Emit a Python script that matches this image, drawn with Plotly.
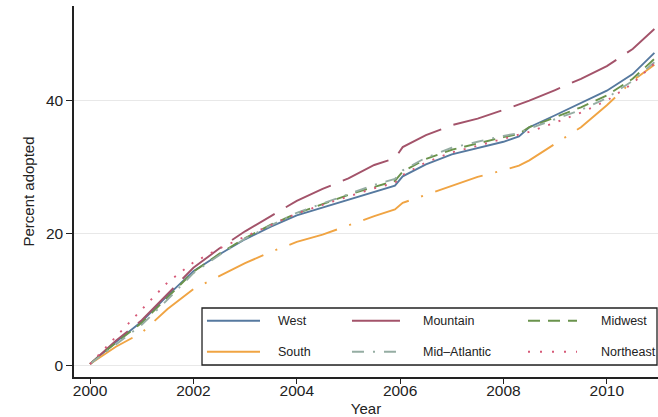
import plotly.graph_objects as go

# Adoption share (%) by region over time
years = [2000.0, 2000.5, 2001.0, 2001.5, 2002.0, 2002.5, 2003.0, 2003.5, 2004.0,
         2004.5, 2005.0, 2005.5, 2005.9, 2006.05, 2006.5, 2007.0, 2007.5, 2008.0,
         2008.3, 2008.5, 2009.0, 2009.5, 2010.0, 2010.5, 2010.92]

west = [0.3, 3.6, 6.7, 10.6, 14.3, 16.8, 19.1, 21.0, 22.7, 23.9, 25.0, 26.2, 27.2,
        28.6, 30.4, 31.9, 32.9, 33.8, 34.6, 36.0, 37.8, 39.6, 41.5, 44.0, 47.2]
mountain = [0.3, 3.8, 6.9, 10.9, 14.8, 17.7, 20.3, 22.6, 24.9, 26.7, 28.3, 30.3, 31.3,
            33.0, 34.8, 36.3, 37.3, 38.6, 39.4, 40.0, 41.6, 43.3, 45.2, 47.8, 50.8]
midwest = [0.3, 3.5, 6.5, 10.3, 14.2, 16.9, 19.3, 21.3, 23.0, 24.4, 25.8, 27.0, 27.9,
           29.3, 31.2, 32.6, 33.6, 34.5, 35.0, 36.0, 37.5, 39.0, 40.8, 43.3, 46.3]
south = [0.3, 2.9, 5.0, 8.6, 11.6, 13.6, 15.5, 17.2, 18.7, 19.8, 21.2, 22.6, 23.6,
         24.6, 25.8, 27.2, 28.5, 29.5, 30.2, 31.0, 33.5, 36.0, 39.3, 43.0, 45.4]
mid_atlantic = [0.3, 3.3, 6.2, 10.0, 14.0, 16.7, 19.2, 21.2, 23.1, 24.5, 25.9, 27.3, 28.2,
                29.5, 31.4, 32.9, 33.8, 34.7, 35.1, 35.8, 37.2, 38.6, 40.4, 43.0, 45.8]
northeast = [0.3, 4.4, 8.5, 12.6, 15.6, 17.7, 19.5, 21.3, 23.0, 24.3, 25.6, 26.8, 27.6,
             28.8, 30.7, 32.2, 33.2, 34.2, 34.8, 35.3, 36.7, 38.2, 40.0, 42.6, 45.6]

x_ticks = [2000, 2002, 2004, 2006, 2008, 2010]
y_ticks = [0, 20, 40]

FONT = "Liberation Sans, Arial, Helvetica, sans-serif"

# name, values, colour, dash in plot, dash in key
series = [
    ("West", west, "#56799f", "solid", "solid"),
    ("Mountain", mountain, "#a3536a", "50px,13px", "solid"),
    ("Midwest", midwest, "#6a934c", "12px,8px", "12px,8px"),
    ("South", south, "#f0a443", "50px,13px,2px,13px", "solid"),
    ("Mid–Atlantic", mid_atlantic, "#95ada3", "12px,9px,2px,9px", "12px,9px,2px,9px"),
    ("Northeast", northeast, "#d65a78", "2px,9px", "2px,10px"),
]

fig = go.Figure()
for name, vals, color, dash, _ in series:
    fig.add_trace(go.Scatter(
        x=years, y=vals, mode="lines", name=name, showlegend=False,
        line=dict(color=color, width=1.9, dash=dash),
    ))

# Key box in the lower right of the plotting area
shapes = [dict(type="rect", xref="paper", yref="paper",
               x0=0.2192, x1=0.9983, y0=0.0323, y1=0.186,
               line=dict(color="#222222", width=1.3), fillcolor="white", layer="above")]
annotations = []
col_line = [(0.2277, 0.3185), (0.476, 0.5582), (0.7774, 0.8613)]
col_text = [0.3455, 0.5938, 0.8986]
row_y = [0.1518, 0.0682]
for i, (name, _, color, _, key_dash) in enumerate(series):
    r, c = divmod(i, 3)
    shapes.append(dict(type="line", xref="paper", yref="paper",
                       x0=col_line[c][0], x1=col_line[c][1], y0=row_y[r], y1=row_y[r],
                       line=dict(color=color, width=2, dash=key_dash), layer="above"))
    annotations.append(dict(xref="paper", yref="paper", x=col_text[c], y=row_y[r],
                            text=name, showarrow=False, xanchor="left", yanchor="middle",
                            font=dict(family=FONT, size=12.5, color="#222222")))

fig.update_layout(
    width=658, height=417,
    margin=dict(l=74, r=0, t=6, b=40),
    paper_bgcolor="white", plot_bgcolor="white",
    font=dict(family=FONT, color="#222222"),
    shapes=shapes, annotations=annotations,
    xaxis=dict(range=[1999.69, 2010.99], tickvals=x_ticks, ticktext=[str(t) for t in x_ticks],
               showgrid=False, zeroline=False, showline=True, linecolor="#222222", linewidth=1.5,
               ticks="outside", ticklen=5, tickwidth=1, tickcolor="#222222",
               ticklabelstandoff=-6,
               tickfont=dict(size=15.5), title=dict(text="Year", font=dict(size=15), standoff=6)),
    yaxis=dict(range=[-1.66, 54.27], tickvals=y_ticks, ticktext=[str(t) for t in y_ticks],
               showgrid=True, gridcolor="#e8e8e8", gridwidth=1, zeroline=False,
               showline=True, linecolor="#222222", linewidth=1.5,
               ticks="outside", ticklen=6, tickwidth=1, tickcolor="#222222",
               tickfont=dict(size=15.5), title=dict(text="Percent adopted", font=dict(size=15), standoff=8)),
)

fig.write_html("out.html")
